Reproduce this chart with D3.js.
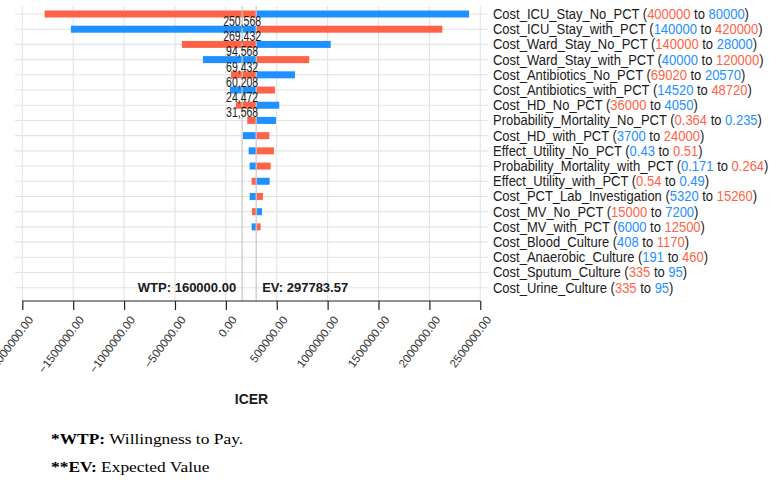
<!DOCTYPE html>
<html><head><meta charset="utf-8">
<script src="https://cdn.jsdelivr.net/npm/d3@7/dist/d3.min.js"></script>
<style>body{margin:0;background:#fff}svg{display:block}</style>
</head><body><svg id="c" width="778" height="487"></svg>
<script>
const params = ["Cost_ICU_Stay_No_PCT","Cost_ICU_Stay_with_PCT","Cost_Ward_Stay_No_PCT","Cost_Ward_Stay_with_PCT","Cost_Antibiotics_No_PCT","Cost_Antibiotics_with_PCT","Cost_HD_No_PCT","Probability_Mortality_No_PCT","Cost_HD_with_PCT","Effect_Utility_No_PCT","Probability_Mortality_with_PCT","Effect_Utility_with_PCT","Cost_PCT_Lab_Investigation","Cost_MV_No_PCT","Cost_MV_with_PCT","Cost_Blood_Culture","Cost_Anaerobic_Culture","Cost_Sputum_Culture","Cost_Urine_Culture"];
const fromVals = ["400000","140000","140000","40000","69020","14520","36000","0.364","3700","0.43","0.171","0.54","5320","15000","6000","408","191","335","335"];
const toVals   = ["80000","420000","28000","120000","20570","48720","4050","0.235","24000","0.51","0.264","0.49","15260","7200","12500","1170","460","95","95"];
// ICER when parameter is at its high value (red) and at its low value (blue)
const icerRed  = [-1781400, 2127400, -431600, 819900, 50100, 482700, 99300, 210400, 426700, 472900, 440400, 253600, 364700, 256600, 342100, 299200, 298600, 297000, 297000];
const icerBlue = [2389900, -1522800, 1030300, -225100, 679300, 40300, 525000, 492500, 168100, 224100, 234000, 430600, 234000, 354900, 253600, 296400, 297000, 298600, 298600];
const midLabels = ["250,568","269,432","94,568","69,432","60,208","24,472","31,568"];
const tickValues = [-2000000,-1500000,-1000000,-500000,0,500000,1000000,1500000,2000000,2500000];
const EV = 297783.57, WTP = 160000;

const RED = "#FF6347", BLUE = "#1E90FF";
const svg = d3.select("#c");
svg.append("rect").attr("width",778).attr("height",487).attr("fill","#fff");

const x = d3.scaleLinear().domain([-2072000, 2576000]).range([15, 488]);
const y = d3.scalePoint().domain(params).range([14, 287.7]);
const panelTop = 6, axisY = 301;

// grid
const g = svg.append("g");
g.selectAll("line.v").data(tickValues).join("line")
  .attr("x1", d => x(d)).attr("x2", d => x(d)).attr("y1", panelTop).attr("y2", axisY)
  .attr("stroke", "#e3e3e3").attr("stroke-width", 1.1);
g.selectAll("line.h").data(params).join("line")
  .attr("x1", 15).attr("x2", 488).attr("y1", d => y(d)).attr("y2", d => y(d))
  .attr("stroke", "#e3e3e3").attr("stroke-width", 1.1);

// bars
const barH = 7;
const bars = [];
params.forEach((p, i) => {
  bars.push({p, v: icerRed[i], c: RED});
  bars.push({p, v: icerBlue[i], c: BLUE});
});
svg.append("g").selectAll("rect").data(bars).join("rect")
  .attr("x", d => Math.min(x(d.v), x(EV)))
  .attr("width", d => Math.abs(x(d.v) - x(EV)))
  .attr("y", d => y(d.p) - barH / 2).attr("height", barH)
  .attr("fill", d => d.c);

// WTP / EV lines
[WTP, EV].forEach(v => {
  svg.append("line").attr("x1", x(v)).attr("x2", x(v)).attr("y1", panelTop).attr("y2", axisY)
    .attr("stroke", "#c8c8c8").attr("stroke-width", 1.2);
});

// middle labels
svg.append("g").selectAll("text").data(midLabels).join("text")
  .attr("transform", (d, i) => `translate(${x(WTP)},${y(params[i]) + 12}) scale(0.75,1)`)
  .attr("text-anchor", "middle")
  .attr("font-family", "Liberation Sans, Arial, sans-serif").attr("font-size", 14)
  .attr("fill", "#1a1a1a").text(d => d);

// WTP / EV text
svg.append("text").attr("x", x(WTP) - 6).attr("y", 292).attr("text-anchor", "end")
  .attr("font-family", "Liberation Sans, Arial, sans-serif").attr("font-size", 13).attr("font-weight", "bold")
  .attr("fill", "#1a1a1a").text("WTP: " + d3.format(".2f")(WTP));
svg.append("text").attr("x", x(EV) + 6).attr("y", 292)
  .attr("font-family", "Liberation Sans, Arial, sans-serif").attr("font-size", 13).attr("font-weight", "bold")
  .attr("fill", "#1a1a1a").text("EV: " + d3.format(".2f")(EV));

// right-side labels
const lab = svg.append("g").selectAll("text").data(params).join("text")
  .attr("transform", d => `translate(493,${y(d) + 5}) scale(1,1.06)`)
  .attr("font-family", "Liberation Sans, Arial, sans-serif").attr("font-size", 13)
  .attr("fill", "#1a1a1a");
lab.each(function(d, i) {
  const t = d3.select(this);
  const a = +fromVals[i], b = +toVals[i];
  t.append("tspan").text(d + " (");
  t.append("tspan").attr("fill", a > b ? RED : BLUE).text(fromVals[i]);
  t.append("tspan").text(" to ");
  t.append("tspan").attr("fill", b > a ? RED : BLUE).text(toVals[i]);
  t.append("tspan").text(")");
});

// axis
const ax = svg.append("g").attr("transform", `translate(0,${axisY})`)
  .call(d3.axisBottom(x).tickValues(tickValues).tickSize(9).tickSizeOuter(0).tickFormat(d3.format(".2f")));
ax.select(".domain").attr("d", `M${x(tickValues[0])},0H${x(tickValues[tickValues.length-1])}`)
  .attr("stroke", "#222").attr("stroke-width", 1.2);
ax.selectAll(".tick line").attr("stroke", "#222").attr("stroke-width", 1.2);
ax.selectAll(".tick text")
  .attr("font-family", "Liberation Sans, Arial, sans-serif").attr("font-size", 11.5)
  .attr("fill", "#333")
  .attr("text-anchor", "end")
  .attr("dy", null)
  .attr("transform", "translate(11,19) rotate(-53)")
  .attr("x", 0).attr("y", 0);

// axis title
svg.append("text").attr("x", (x.range()[0] + x.range()[1]) / 2).attr("y", 404)
  .attr("text-anchor", "middle").attr("font-family", "Liberation Sans, Arial, sans-serif")
  .attr("font-size", 14).attr("font-weight", "bold").attr("fill", "#1a1a1a").text("ICER");

// footnotes
const notes = [["*", "WTP:", " Willingness to Pay."], ["**", "EV:", " Expected Value"]];
svg.append("g").selectAll("text").data(notes).join("text")
  .attr("transform", (d, i) => `translate(51,${443.5 + i * 28}) scale(1.16,1)`)
  .attr("font-family", "Liberation Serif, Times New Roman, serif").attr("font-size", 15)
  .attr("fill", "#000")
  .each(function(d) {
    const t = d3.select(this);
    t.append("tspan").attr("font-weight", "bold").text(d[0] + d[1]);
    t.append("tspan").text(d[2]);
  });
</script></body></html>
